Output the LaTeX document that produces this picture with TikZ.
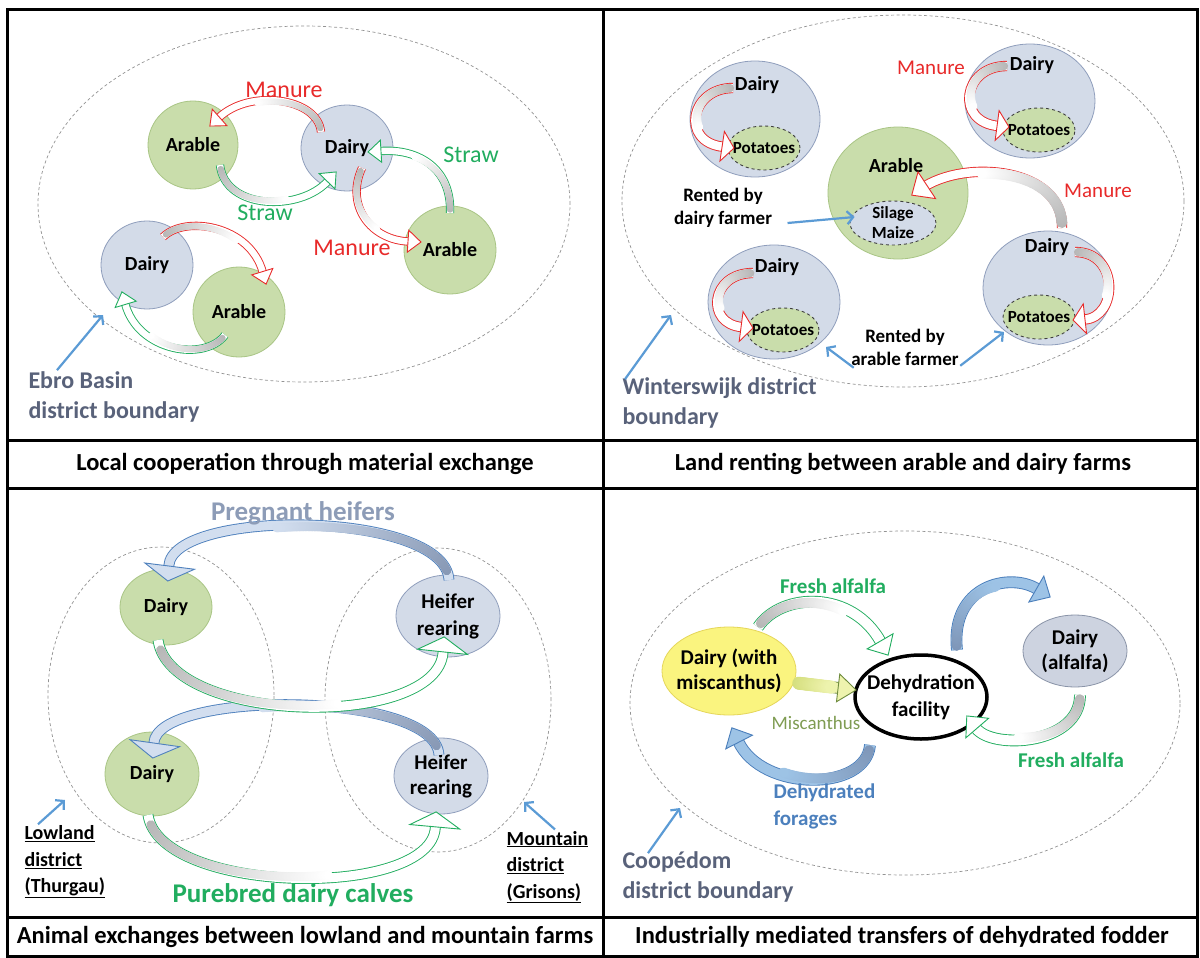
\documentclass[tikz,border=0pt]{standalone}
\usepackage{fontspec}
\setmainfont{Carlito}
\usetikzlibrary{arrows.meta,shapes.geometric,decorations.markings,calc}

\definecolor{arablefill}{HTML}{C9DDAB}
\definecolor{arableline}{HTML}{A9C585}
\definecolor{dairyfill}{HTML}{D3DBE8}
\definecolor{dairyline}{HTML}{8F9EBC}
\definecolor{manurered}{HTML}{E82A2A}
\definecolor{strawgreen}{HTML}{21AD5F}
\definecolor{tailgray}{HTML}{B3B3B3}
\definecolor{pregblue}{HTML}{8D9CB7}
\definecolor{heiferline}{HTML}{4F81BD}
\definecolor{heifertail}{HTML}{8495B2}
\definecolor{heiferfill}{HTML}{D2DEEF}
\definecolor{dehyline}{HTML}{4A7EBB}
\definecolor{dehytail}{HTML}{7D94B6}
\definecolor{dehyfill}{HTML}{9DC3E6}
\definecolor{pointblue}{HTML}{5B9BD5}
\definecolor{slate}{HTML}{59627A}
\definecolor{miscfill}{HTML}{FAF47F}
\definecolor{miscline}{HTML}{E5D65A}
\definecolor{oliveline}{HTML}{6E8B3D}
\definecolor{olivetail}{HTML}{D4DE7C}
\definecolor{olivefill}{HTML}{EEF3AE}
\definecolor{misctext}{HTML}{7F9C52}
\definecolor{dehytext}{HTML}{4C80BD}
\definecolor{alffill}{HTML}{CDD3E0}
\definecolor{alfline}{HTML}{8A94A8}

\newcommand\farmfont{\fontsize{20}{24}\selectfont\bfseries}
\newcommand\flowfont{\fontsize{24}{28}\selectfont}
\newcommand\patchfont{\fontsize{17}{20}\selectfont\bfseries}
\newcommand\rentfont{\fontsize{19}{23}\selectfont\bfseries}
\newcommand\bigfont{\fontsize{27}{30}\selectfont\bfseries}
\newcommand\districtfont{\fontsize{24}{30}\selectfont\bfseries}
\newcommand\lowfont{\fontsize{20}{26.5}\selectfont\bfseries}
\newcommand\capfont{\fontsize{24.5}{28}\selectfont\bfseries}

\tikzset{
  bandw/.store in=\bandw, bandw=6.5pt,
  headw/.store in=\headw, headw=10pt,
  headl/.store in=\headl, headl=12pt,
  band/.style n args={3}{draw=#1, line width=0.9pt, double=#3,
    double distance=\bandw, shorten >=\headl-1pt,
    postaction={decorate, decoration={markings,
      mark=between positions 0.03 and 0.6 step 1.5pt with {
        \pgfmathsetmacro\shd{max(0,100*(1-(\pgfkeysvalueof{/pgf/decoration/mark info/distance from start})/(0.6*\pgfdecoratedpathlength)))}
        \fill[#2!\shd!#3] (0,0) circle (0.5*\bandw);},
      mark=at position -3pt with {
        \draw[#1, fill=#3, line width=0.9pt, line join=miter, shorten >=0pt]
          (3pt,0pt) -- (3pt-\headl,\headw) -- (3pt-\headl,-\headw) -- cycle;}}}},
  arable/.style={ellipse, fill=arablefill, draw=arableline, line width=0.8pt,
    inner sep=0pt, font=\farmfont},
  dairy/.style={ellipse, fill=dairyfill, draw=dairyline, line width=0.8pt,
    inner sep=0pt, font=\farmfont},
  patch/.style={ellipse, fill=arablefill, draw=black!75, dashed, line width=0.9pt,
    inner sep=0pt, minimum width=72pt, minimum height=44pt,
    label={[font=\patchfont]center:Potatoes}},
  boundary/.style={draw=gray!85, dash pattern=on 3pt off 2.5pt, line width=0.7pt},
  pointer/.style={draw=pointblue, line width=2.2pt, -{Straight Barb[length=6pt,width=13pt]}},
  district/.style={font=\districtfont, text=slate, align=left, anchor=west},
  captext/.style={font=\capfont}
}

\begin{document}
\begin{tikzpicture}[x=1pt,y=-1pt]
  \fill[white] (0,0) rectangle (1200,958);
  \useasboundingbox (0,0) rectangle (1200,958);

  % local cooperation
  \begin{scope}[bandw=6.5pt, headw=11pt, headl=13pt]
    \draw[boundary] (304,204) ellipse [x radius=266pt, y radius=178pt];
    \node[arable, minimum width=90pt, minimum height=88pt] (ar1) at (193,145) {Arable};
    \node[dairy, minimum width=92pt, minimum height=86pt] (dy1) at (347,148) {Dairy};
    \node[arable, minimum width=92pt, minimum height=88pt] (ar2) at (450,250) {Arable};
    \node[dairy, minimum width=92pt, minimum height=88pt] (dy2) at (147,265) {Dairy};
    \node[arable, minimum width=92pt, minimum height=90pt] (ar3) at (239,312) {Arable};
    \draw[band={manurered}{tailgray}{white}] ($(dy1)+(-26,-16)$)
      .. controls (318,98) and (250,88) .. ($(ar1)+(17,-19)$);
    \draw[band={strawgreen}{tailgray}{white}] ($(ar1)+(27,20)$)
      .. controls (225,210) and (300,212) .. ($(dy1)+(-11,24)$);
    \draw[band={strawgreen}{tailgray}{white}] ($(ar2)+(0,-37)$)
      .. controls (452,170) and (420,148) .. ($(dy1)+(21,4)$);
    \draw[band={manurered}{tailgray}{white}] ($(dy1)+(15,20)$)
      .. controls (345,205) and (370,240) .. ($(ar2)+(-29,-8)$);
    \draw[band={manurered}{tailgray}{white}] ($(dy2)+(16,-28)$)
      .. controls (185,215) and (250,225) .. ($(ar3)+(27,-28)$);
    \draw[band={strawgreen}{tailgray}{white}] ($(ar3)+(-14,23)$)
      .. controls (205,362) and (138,352) .. ($(dy2)+(-25,27)$);
    \node[font=\flowfont, text=manurered] (man1) at (284,90) {Manure};
    \node[font=\flowfont, text=strawgreen] (str1) at (471,155) {Straw};
    \node[font=\flowfont, text=strawgreen] (str2) at (265,213) {Straw};
    \node[font=\flowfont, text=manurered] (man2) at (352,248) {Manure};
    \node[district] (ebro) at (25,397) {Ebro Basin\\district boundary};
    \coordinate (ebrotip) at (103,315);
    \draw[pointer] ($(ebro.north west)+(32,2)$) -- (ebrotip);
    \node[captext] (cap1) at (305,464) {Local cooperation through material exchange};
  \end{scope}

  % land renting
  \begin{scope}[bandw=8.5pt, headw=15pt, headl=12pt]
    \draw[boundary] (903,201) ellipse [x radius=281pt, y radius=186pt];
    \node[dairy, minimum width=130pt, minimum height=116pt] (dya) at (755,119) {};
    \node[dairy, minimum width=130pt, minimum height=114pt] (dyb) at (1030,101) {};
    \node[dairy, minimum width=132pt, minimum height=114pt] (dyc) at (774,302) {};
    \node[dairy, minimum width=130pt, minimum height=114pt] (dyd) at (1048,288) {};
    \node[arable, minimum width=140pt, minimum height=132pt] (arc) at (898,193) {};
    \node[patch] (pa) at (764,148) {};
    \node[patch] (pb) at (1039,130) {};
    \node[patch] (pc) at (783,330) {};
    \node[patch] (pd) at (1039,317) {};
    \node[ellipse, fill=dairyfill, draw=black!75, dashed, line width=0.9pt,
      minimum width=86pt, minimum height=44pt, inner sep=0pt,
      label={[font=\patchfont, align=center]center:Silage\\Maize}] (sm) at (893,223) {};
    \node[font=\farmfont] (dyatxt) at (757,85) {Dairy};
    \node[font=\farmfont] (dybtxt) at (1032,65) {Dairy};
    \node[font=\farmfont] (dyctxt) at (777,267) {Dairy};
    \node[font=\farmfont] (dydtxt) at (1047,247) {Dairy};
    \node[font=\farmfont] (arctxt) at (896,166) {Arable};
    \draw[band={manurered}{tailgray}{white}] ($(dya)+(-22,-31)$)
      .. controls (690,88) and (680,142) .. ($(pa)+(-30,0)$);
    \draw[band={manurered}{tailgray}{white}] ($(dyb)+(-23,-35)$)
      .. controls (962,66) and (955,122) .. ($(pb)+(-30,-3)$);
    \draw[band={manurered}{tailgray}{white}] ($(dyc)+(-21,-29)$)
      .. controls (710,273) and (705,324) .. ($(pc)+(-30,-2)$);
    \draw[band={manurered}{tailgray}{white}] ($(dyd)+(27,-36)$)
      .. controls (1120,252) and (1118,318) .. ($(pd)+(34,3)$);
    \draw[band={manurered}{tailgray}{white}, bandw=11pt, headw=16pt, headl=18pt]
      ($(dyd)+(14,-60)$) .. controls (1064,168) and (965,158) .. ($(sm)+(19,-28)$);
    \node[font=\fontsize{21}{25}\selectfont, text=manurered] (man3) at (931,68) {Manure};
    \node[font=\fontsize{21}{25}\selectfont, text=manurered] (man4) at (1098,191) {Manure};
    \node[font=\rentfont, align=center] (rentd) at (723,208) {Rented by\\dairy farmer};
    \node[font=\rentfont, align=center] (renta) at (905,347) {Rented by\\arable farmer};
    \draw[pointer] ($(rentd.east)+(12,15)$) -- ($(sm.west)+(5,-6)$);
    \draw[pointer] ($(renta.south west)+(6,-1)$) -- ($(dyc)+(52,45)$);
    \draw[pointer] ($(renta.south east)+(-2,-3)$) -- ($(pd)+(-35,15)$);
    \node[district] (wsw) at (619,403) {Winterswijk district\\boundary};
    \coordinate (wswtip) at (671,315);
    \draw[pointer] ($(wsw.north west)+(6,5)$) -- (wswtip);
    \node[captext] (cap2) at (903,464) {Land renting between arable and dairy farms};
  \end{scope}

  % animal exchanges
  \begin{scope}[bandw=9pt, headw=25pt, headl=15pt]
    \draw[boundary] (161,695) ellipse [x radius=113pt, y radius=148pt];
    \draw[boundary] (438,700) ellipse [x radius=113pt, y radius=152pt];
    \node[arable, minimum width=92pt, minimum height=76pt] (dyt) at (166,607) {Dairy};
    \node[dairy, minimum width=104pt, minimum height=82pt,
      label={[font=\fontsize{21}{27}\selectfont\bfseries, align=center]center:Heifer\\rearing}] (hft) at (448,616) {};
    \node[arable, minimum width=94pt, minimum height=84pt] (dyl) at (152,774) {Dairy};
    \node[dairy, minimum width=94pt, minimum height=76pt,
      label={[font=\fontsize{21}{25}\selectfont\bfseries, align=center]center:Heifer\\rearing}] (hfb) at (441,776) {};
    \draw[band={heiferline}{heifertail}{heiferfill}] ($(hft)+(1,-36)$)
      .. controls (445,510) and (172,508) .. ($(dyt)+(2,-27)$);
    \draw[band={heiferline}{heifertail}{heiferfill}] ($(hfb)+(-2,-21)$)
      .. controls (435,690) and (157,690) .. ($(dyl)+(1,-17)$);
    \draw[band={strawgreen}{tailgray}{white}] ($(dyt)+(-8,33)$)
      .. controls (170,725) and (438,730) .. ($(hft)+(-4,22)$);
    \draw[band={strawgreen}{tailgray}{white}] ($(dyl)+(-4,41)$)
      .. controls (160,895) and (432,900) .. ($(hfb)+(-5,37)$);
    \node[font=\bigfont, text=pregblue] (preg) at (303,513) {Pregnant heifers};
    \node[font=\bigfont, text=strawgreen] (pure) at (293,895) {Purebred dairy calves};
    \node[font=\lowfont, align=left, anchor=west] (lowl) at (21,862)
      {\underline{Lowland}\\\underline{district}\\\underline{(Thurgau)}};
    \node[font=\lowfont, align=left, anchor=west] (mount) at (503,867)
      {\underline{Mountain}\\\underline{district}\\\underline{(Grisons)}};
    \coordinate (lowltip) at (65,800);
    \coordinate (mounttip) at (524,802);
    \draw[pointer] ($(lowl.north west)+(17,2)$) -- (lowltip);
    \draw[pointer] ($(mount.north west)+(52,2)$) -- (mounttip);
    \node[captext] (cap3) at (305,937) {Animal exchanges between lowland and mountain farms};
  \end{scope}

  % dehydrated fodder
  \begin{scope}[bandw=10pt, headw=15pt, headl=16pt]
    \draw[boundary] (905,703) ellipse [x radius=275pt, y radius=172pt];
    \node[ellipse, fill=miscfill, draw=miscline, line width=0.8pt,
      minimum width=134pt, minimum height=88pt, inner sep=0pt,
      label={[font=\fontsize{21}{25}\selectfont\bfseries, align=center]center:Dairy (with\\miscanthus)}] (misc) at (729,671) {};
    \node[ellipse, fill=white, draw=black, line width=3.5pt,
      minimum width=132pt, minimum height=84pt, inner sep=0pt,
      label={[font=\fontsize{21}{27}\selectfont\bfseries, align=center]center:Dehydration\\facility}] (fac) at (921,697) {};
    \node[ellipse, fill=alffill, draw=alfline, line width=0.8pt,
      minimum width=104pt, minimum height=72pt, inner sep=0pt,
      label={[font=\fontsize{21}{25}\selectfont\bfseries, align=center]center:Dairy\\(alfalfa)}] (alf) at (1075,651) {};
    \draw[band={oliveline}{olivetail}{olivefill}, bandw=13pt, headw=14pt, headl=18pt]
      ($(misc)+(68,12)$) -- ($(fac)+(-65,-7)$);
    \draw[band={strawgreen}{tailgray}{white}] ($(misc)+(29,-44)$)
      .. controls (782,592) and (852,590) .. ($(fac)+(-33,-42)$);
    \draw[band={dehyline}{dehytail}{dehyfill}] ($(fac)+(-51,48)$)
      .. controls (866,792) and (762,792) .. ($(misc)+(3,57)$);
    \draw[band={dehyline}{dehytail}{dehyfill}] ($(fac)+(36,-47)$)
      .. controls (950,585) and (1010,572) .. ($(alf)+(-25,-54)$);
    \draw[band={strawgreen}{tailgray}{white}] ($(alf)+(5,44)$)
      .. controls (1080,745) and (992,750) .. ($(fac)+(46,19)$);
    \node[font=\fontsize{21}{25}\selectfont\bfseries, text=strawgreen] (alfa1) at (833,586) {Fresh alfalfa};
    \node[font=\fontsize{21}{25}\selectfont\bfseries, text=strawgreen] (alfa2) at (1071,760) {Fresh alfalfa};
    \node[font=\fontsize{19}{23}\selectfont, text=misctext] (misclbl) at (816,723) {Miscanthus};
    \node[font=\fontsize{21}{27}\selectfont\bfseries, text=dehytext, align=left, anchor=west]
      (dehy) at (770,806) {Dehydrated\\forages};
    \node[district] (coop) at (619,877) {Coopédom\\district boundary};
    \coordinate (cooptip) at (680,808);
    \draw[pointer] ($(coop.north west)+(29,5)$) -- (cooptip);
    \node[captext] (cap4) at (902,937) {Industrially mediated transfers of dehydrated fodder};
  \end{scope}

  % frame
  \draw[line width=3pt] (7,10) rectangle (1197,956);
  \draw[line width=3pt] (7,440) -- (1197,440);
  \draw[line width=3pt] (7,488) -- (1197,488);
  \draw[line width=3pt] (7,917) -- (1197,917);
  \draw[line width=3pt] (603,10) -- (603,956);
\end{tikzpicture}
\end{document}
